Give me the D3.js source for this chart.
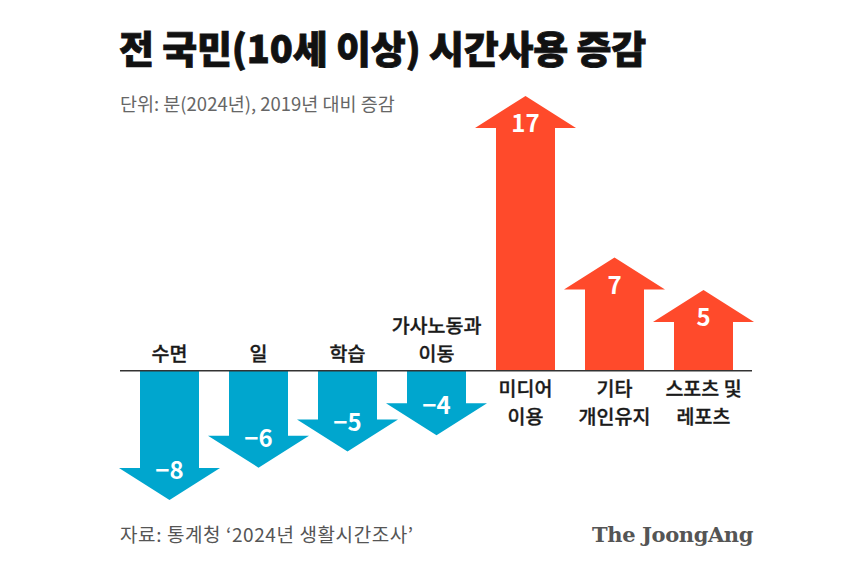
<!DOCTYPE html>
<html>
<head>
<meta charset="utf-8">
<script src="https://cdn.jsdelivr.net/npm/d3@7"></script>
<style>
  html, body { margin: 0; padding: 0; background: #fff; }
  svg { display: block; font-family: "Noto Sans CJK KR", "Noto Sans", sans-serif; }
</style>
</head>
<body>
<script>
// categories (line breaks as drawn) and change in minutes vs 2019
const categories = ['수면', '일', '학습', '가사노동과\n이동', '미디어\n이용', '기타\n개인유지', '스포츠 및\n레포츠'];
const changes = [-8, -6, -5, -4, 17, 7, 5];

const title = '전 국민(10세 이상) 시간사용 증감';
const subtitle = '단위: 분(2024년), 2019년 대비 증감';
const source = '자료: 통계청 ‘2024년 생활시간조사’';
const brand = 'The JoongAng';

(function() {
  const width = 865, height = 587;
  const blue = '#00A6CE', red = '#FF4A2B';

  const svg = d3.select('body').append('svg')
    .attr('width', width)
    .attr('height', height);

  // scales
  const x = d3.scaleBand().domain(categories).range([125, 748]);
  const y = d3.scaleLinear().domain([-8, 17]).range([500, 96]);

  const shaftHalf = 29.5, headHalf = 50.5, headLen = 32;

  // header
  svg.append('text')
    .attr('x', 119).attr('y', 63)
    .attr('font-size', 38).attr('font-weight', 900)
    .attr('letter-spacing', -0.2)
    .attr('fill', '#111')
    .attr('stroke', '#111').attr('stroke-width', 0.8)
    .text(title);

  svg.append('text')
    .attr('x', 120).attr('y', 111)
    .attr('font-size', 18.5)
    .attr('fill', '#666')
    .text(subtitle);

  // arrows
  function arrowPath(cat, v) {
    const cx = x(cat) + x.bandwidth() / 2;
    const y0 = y(0), yt = y(v);
    const yb = v > 0 ? yt + headLen : yt - headLen;
    return d3.line()([
      [cx - shaftHalf, y0], [cx - shaftHalf, yb], [cx - headHalf, yb],
      [cx, yt],
      [cx + headHalf, yb], [cx + shaftHalf, yb], [cx + shaftHalf, y0]
    ]) + 'Z';
  }

  const g = svg.append('g');
  g.selectAll('path')
    .data(categories)
    .enter().append('path')
    .attr('d', (d, i) => arrowPath(d, changes[i]))
    .attr('fill', (d, i) => changes[i] < 0 ? blue : red);

  // value labels inside the heads
  g.selectAll('text.val')
    .data(categories)
    .enter().append('text')
    .attr('class', 'val')
    .attr('x', d => x(d) + x.bandwidth() / 2)
    .attr('y', (d, i) => changes[i] > 0 ? y(changes[i]) + 36 : y(changes[i]) - 21)
    .attr('text-anchor', 'middle')
    .attr('font-size', 24).attr('font-weight', 700)
    .attr('fill', '#fff')
    .text((d, i) => changes[i] < 0 ? '\u2212' + Math.abs(changes[i]) : changes[i]);

  // baseline
  svg.append('line')
    .attr('x1', 120).attr('x2', 752)
    .attr('y1', y(0)).attr('y2', y(0))
    .attr('stroke', '#333').attr('stroke-width', 1.6);

  // category labels: above baseline for decreases, below for increases
  const lineGap = 28;
  categories.forEach((cat, i) => {
    const lines = cat.split('\n');
    const cx = x(cat) + x.bandwidth() / 2;
    const t = svg.append('text')
      .attr('text-anchor', 'middle')
      .attr('font-size', 19.5).attr('font-weight', 500)
      .attr('fill', '#1a1a1a')
      .attr('stroke', '#1a1a1a').attr('stroke-width', 0.35);
    lines.forEach((ln, j) => {
      const yy = changes[i] < 0
        ? y(0) - 10 - (lines.length - 1 - j) * lineGap
        : y(0) + 25 + j * lineGap;
      t.append('tspan').attr('x', cx).attr('y', yy).text(ln);
    });
  });

  // footer
  svg.append('text')
    .attr('x', 120).attr('y', 542)
    .attr('font-size', 19)
    .attr('fill', '#555')
    .attr('letter-spacing', 0.6)
    .text(source);

  svg.append('text')
    .attr('x', 753).attr('y', 542)
    .attr('text-anchor', 'end')
    .attr('font-family', '"DejaVu Serif", serif')
    .attr('font-size', 21).attr('font-weight', 700)
    .attr('letter-spacing', -0.4)
    .attr('fill', '#555')
    .text(brand);
})();
</script>
</body>
</html>
